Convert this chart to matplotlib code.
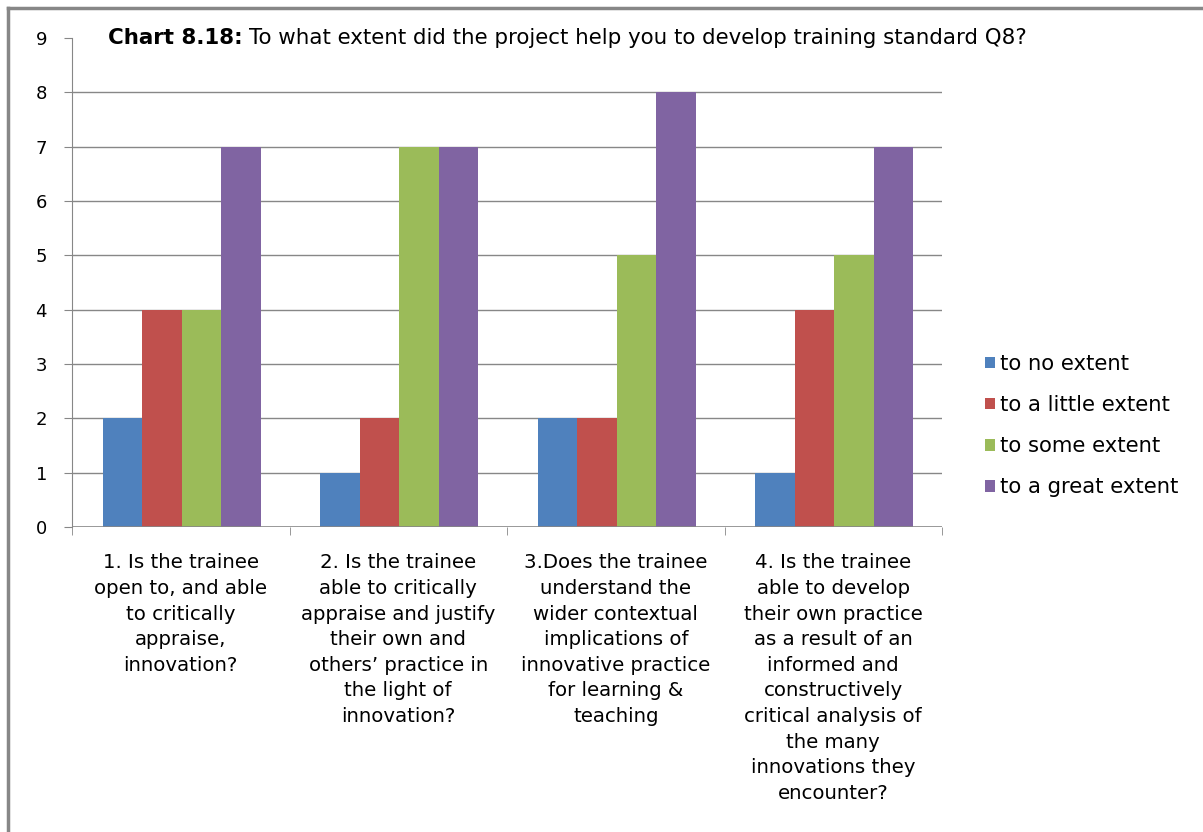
import numpy as np
from matplotlib import pyplot as plt
from matplotlib.patches import Patch
from matplotlib.lines import Line2D

# data
categories = [
    "1. Is the trainee\nopen to, and able\nto critically\nappraise,\ninnovation?",
    "2. Is the trainee\nable to critically\nappraise and justify\ntheir own and\nothers\u2019 practice in\nthe light of\ninnovation?",
    "3.Does the trainee\nunderstand the\nwider contextual\nimplications of\ninnovative practice\nfor learning &\nteaching",
    "4. Is the trainee\nable to develop\ntheir own practice\nas a result of an\ninformed and\nconstructively\ncritical analysis of\nthe many\ninnovations they\nencounter?",
]
series_names = ["to no extent", "to a little extent", "to some extent", "to a great extent"]
no_extent = [2, 1, 2, 1]
little_extent = [4, 2, 2, 4]
some_extent = [4, 7, 5, 5]
great_extent = [7, 7, 8, 7]
y_ticks = list(range(0, 10))

COLORS = ['#4F81BD', '#C0504D', '#9BBB59', '#8064A2']
GRID = '#878787'

plt.rcParams['font.family'] = ['DejaVu Sans']
fig = plt.figure(figsize=(12.03, 8.32), dpi=100)
ax = fig.add_axes([72/1203, 1 - 527/832, (942-72)/1203, (527-38)/832])

values = [no_extent, little_extent, some_extent, great_extent]
x = np.arange(len(categories))
w = 1 / 5.5
for i, (vals, name, c) in enumerate(zip(values, series_names, COLORS)):
    ax.bar(x + (i - 1.5) * w + 0.005, vals, w, color=c, label=name, zorder=2)

ax.set_xlim(-0.5, len(categories) - 0.5)
ax.set_ylim(0, 9)
ax.set_yticks(y_ticks)
ax.set_yticklabels([str(t) for t in y_ticks], fontsize=13)
for t in y_ticks[1:-1]:
    ax.axhline(t, color=GRID, lw=1, zorder=1)
ax.axhline(0, color=GRID, lw=1.2, zorder=3)

ax.set_xticks(x)
ax.set_xticklabels(categories, fontsize=14.2, linespacing=1.44)
ax.set_xticks(np.arange(-0.5, len(categories)), minor=True)
ax.tick_params(axis='x', which='major', length=0, pad=19)
ax.tick_params(axis='x', which='minor', length=6, color=GRID, direction='out')
ax.tick_params(axis='y', length=6, color=GRID, pad=12)

for s in ['top', 'right', 'bottom']:
    ax.spines[s].set_visible(False)
ax.spines['left'].set_color(GRID)

# title, bold part + normal part
t1 = fig.text(108/1203, 1 - 38/832, "Chart 8.18:", fontsize=15.4, fontweight='bold', va='center')
fig.canvas.draw()
bb = t1.get_window_extent()
fig.text((bb.x1 + 6) / 1203, 1 - 38/832,
         "To what extent did the project help you to develop training standard Q8?",
         fontsize=15.4, va='center')

# legend
handles = [Patch(facecolor=c, edgecolor='none') for c in COLORS]
fig.legend(handles, series_names, loc='upper left', bbox_to_anchor=(966/1203, 1 - 335/832),
           frameon=False, fontsize=15.2, handlelength=0.48, handleheight=0.48,
           handletextpad=0.25, labelspacing=1.0)

# outer border
fig.add_artist(Line2D([8/1203, 8/1203], [0, 1 - 8/832], color=GRID, lw=2.5))
fig.add_artist(Line2D([8/1203, 1], [1 - 8/832, 1 - 8/832], color=GRID, lw=2.5))

fig.savefig('out.png', dpi=100)
